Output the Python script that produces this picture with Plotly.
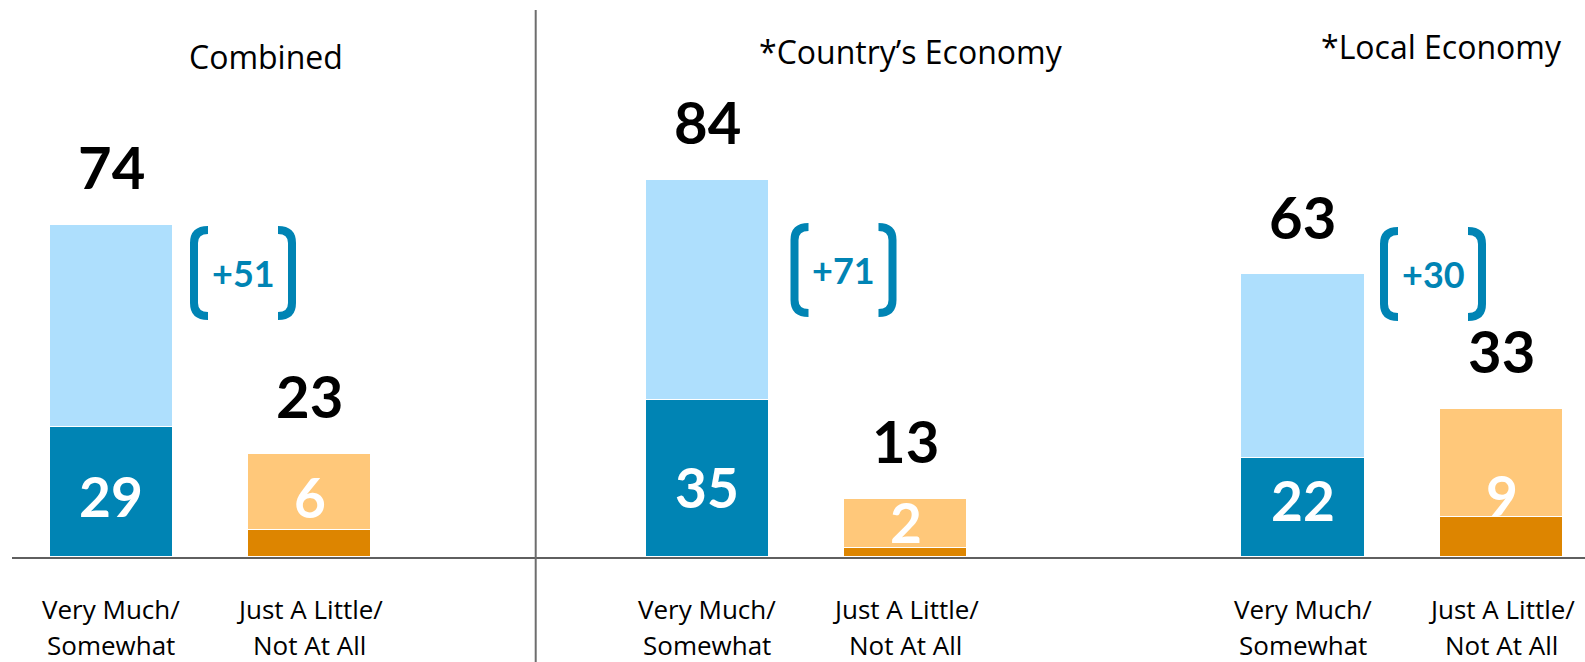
import plotly.graph_objects as go

# ---------------- data ----------------
groups = ["Combined", "*Country\u2019s Economy", "*Local Economy"]
categories = ["Very Much/<br>Somewhat", "Just A Little/<br>Not At All"]
# totals per group: [positive, negative]
positive_total = [74, 84, 63]
positive_strong = [29, 35, 22]
negative_total = [23, 13, 33]
negative_strong = [6, 2, 9]

# ---------------- layout helpers ----------------
W, H = 1585, 662
ML, MR, MT, MB = 12, 0, 0, 105
XR = [-0.5, 7.42]
YR = [0, 124]
PW = W - ML - MR
PH = H - MT - MB
XU = PW / (XR[1] - XR[0])   # px per x unit
YU = PH / (YR[1] - YR[0])   # px per y unit


def px2x(px):
    return XR[0] + (px - ML) / XU


def py2y(py):
    return YR[0] + (MT + PH - py) / YU


def py2paper(py):
    return (MT + PH - py) / PH


NUMFONT = "Lato"
TXTFONT = "Open Sans"
DARK_BLUE = "#0084B4"
LIGHT_BLUE = "#AEDFFD"
DARK_ORANGE = "#DD8500"
LIGHT_ORANGE = "#FFC87A"

group_x = [0, 3, 6]
bar_x, dark_vals, light_vals, dark_cols, light_cols = [], [], [], [], []
for g in range(3):
    bar_x += [group_x[g], group_x[g] + 1]
    dark_vals += [positive_strong[g], negative_strong[g]]
    light_vals += [positive_total[g] - positive_strong[g],
                   negative_total[g] - negative_strong[g]]
    dark_cols += [DARK_BLUE, DARK_ORANGE]
    light_cols += [LIGHT_BLUE, LIGHT_ORANGE]

fig = go.Figure()
fig.add_trace(go.Bar(x=bar_x, y=dark_vals, width=0.62,
                     marker=dict(color=dark_cols, line=dict(color="white", width=1.5)),
                     hoverinfo="skip"))
fig.add_trace(go.Bar(x=bar_x, y=light_vals, width=0.62,
                     marker=dict(color=light_cols, line=dict(color="white", width=1.5)),
                     hoverinfo="skip"))

annotations = []
shapes = []

# label placement (pixels above baseline) for strong-value labels
pos_label_px = [61, 70, 57]
neg_label_px = [60, 35, 62]
title_px = [(266, 56), (911, 51), (1441, 46)]
bracket_px = [(243, 273), (843.5, 270), (1433, 274)]

for g in range(3):
    xp, xn = group_x[g], group_x[g] + 1
    # totals above bars
    for x, tot in [(xp, positive_total[g]), (xn, negative_total[g])]:
        annotations.append(dict(x=x, y=tot, text=f"<b>{tot}</b>", showarrow=False,
                                yanchor="middle", yshift=58,
                                font=dict(family=NUMFONT, size=58, color="black")))
    # strong values inside bars
    annotations.append(dict(x=xp, y=pos_label_px[g] / YU, text=f"<b>{positive_strong[g]}</b>",
                            showarrow=False, yanchor="middle",
                            font=dict(family=NUMFONT, size=55, color="white")))
    annotations.append(dict(x=xn, y=neg_label_px[g] / YU, text=f"<b>{negative_strong[g]}</b>",
                            showarrow=False, yanchor="middle",
                            font=dict(family=NUMFONT, size=55, color="white")))
    # category labels (two lines)
    for x, cat in [(xp, categories[0]), (xn, categories[1])]:
        for line_text, py in zip(cat.split("<br>"), (609, 645)):
            annotations.append(dict(x=x, xref="x", y=py2paper(py), yref="paper",
                                    text=line_text, showarrow=False, yanchor="middle",
                                    font=dict(family=TXTFONT, size=26, color="black")))
    # group titles
    tx, ty = title_px[g]
    annotations.append(dict(x=px2x(tx), y=py2y(ty), text=groups[g], showarrow=False,
                            yanchor="middle",
                            font=dict(family=TXTFONT, size=32, color="black")))
    # difference bracket
    cx, cy = bracket_px[g]
    diff = positive_total[g] - negative_total[g]
    annotations.append(dict(x=px2x(cx), y=py2y(cy), text=f"<b>+{diff}</b>", showarrow=False,
                            yanchor="middle",
                            font=dict(family=NUMFONT, size=36, color=DARK_BLUE)))
    half, tail, r, hh = 49, 14, 13, 43
    for side in (-1, 1):
        xs = cx + side * half
        xe = xs - side * tail
        yt, yb = cy - hh, cy + hh
        path = (f"M {px2x(xe)},{py2y(yt)} "
                f"Q {px2x(xs)},{py2y(yt)} {px2x(xs)},{py2y(yt + r)} "
                f"L {px2x(xs)},{py2y(yb - r)} "
                f"Q {px2x(xs)},{py2y(yb)} {px2x(xe)},{py2y(yb)}")
        shapes.append(dict(type="path", path=path, xref="x", yref="y",
                           line=dict(color=DARK_BLUE, width=8)))

# separator line
shapes.append(dict(type="line", xref="x", yref="paper",
                   x0=px2x(535.7), x1=px2x(535.7), y0=-MB / PH, y1=1 - 10 / PH,
                   line=dict(color="#6d6d6d", width=2)))

fig.update_layout(
    width=W, height=H,
    margin=dict(l=ML, r=MR, t=MT, b=MB),
    barmode="stack", bargap=0,
    showlegend=False,
    plot_bgcolor="white", paper_bgcolor="white",
    xaxis=dict(range=XR, showgrid=False, zeroline=False, showticklabels=False,
               showline=True, linecolor="#5f5f5f", linewidth=2, fixedrange=True),
    yaxis=dict(range=YR, showgrid=False, zeroline=False, showticklabels=False,
               showline=False, fixedrange=True),
    annotations=annotations,
    shapes=shapes,
)

fig.write_html("out.html", config={"displayModeBar": False},
               post_script="document.body.style.margin='0';document.body.style.overflow='hidden';")
